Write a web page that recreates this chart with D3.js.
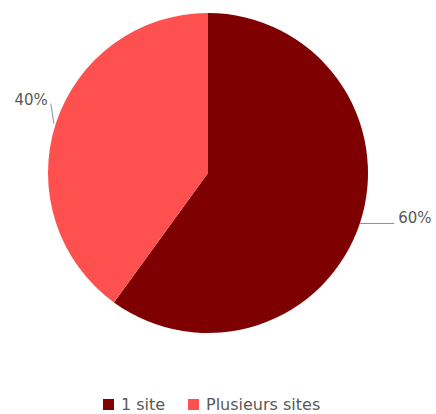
<!DOCTYPE html>
<html><head><meta charset="utf-8">
<script src="https://cdn.jsdelivr.net/npm/d3@7"></script>
<style>body{margin:0;background:#fff}svg{display:block}text{font-family:"DejaVu Sans",sans-serif;fill:#595959}</style>
</head><body>
<script>
const categories = ["1 site", "Plusieurs sites"];
const values = [60, 40];
const labels = ["60%", "40%"];
const colors = ["#7f0000", "#ff5050"];

const W = 436, H = 414, cx = 208, cy = 173, R = 160;
const svg = d3.select("body").append("svg").attr("width", W).attr("height", H);
const g = svg.append("g").attr("transform", `translate(${cx},${cy})`);
const pie = d3.pie().sort(null).value(d => d)(values);
const arc = d3.arc().innerRadius(0).outerRadius(R);
g.selectAll("path").data(pie).enter().append("path")
  .attr("d", arc).attr("fill", (d, i) => colors[i]);

// leader lines and labels
pie.forEach((d, i) => {
  const a = (d.startAngle + d.endAngle) / 2;
  const px = Math.sin(a) * R, py = -Math.cos(a) * R;
  if (i === 0) {
    g.append("path").attr("d", `M${px},${py + 1}L${px + 34},${py + 1}`).attr("stroke", "#8c8c8c").attr("fill", "none");
    g.append("text").attr("x", px + 38).attr("y", py + 1).attr("font-size", 15).text(labels[i]);
  } else {
    g.append("path").attr("d", `M${px - 2},${py}L${px - 5},${py - 20}`).attr("stroke", "#8c8c8c").attr("fill", "none");
    g.append("text").attr("x", px - 8).attr("y", py - 19).attr("text-anchor", "end").attr("font-size", 15).text(labels[i]);
  }
});

// legend
const lg = svg.append("g");
const xs = [103, 188];
categories.forEach((c, i) => {
  lg.append("rect").attr("x", xs[i]).attr("y", 399).attr("width", 11).attr("height", 11).attr("fill", colors[i]);
  lg.append("text").attr("x", xs[i] + 18).attr("y", 410).attr("font-size", 16).text(c);
});
</script>
</body></html>
